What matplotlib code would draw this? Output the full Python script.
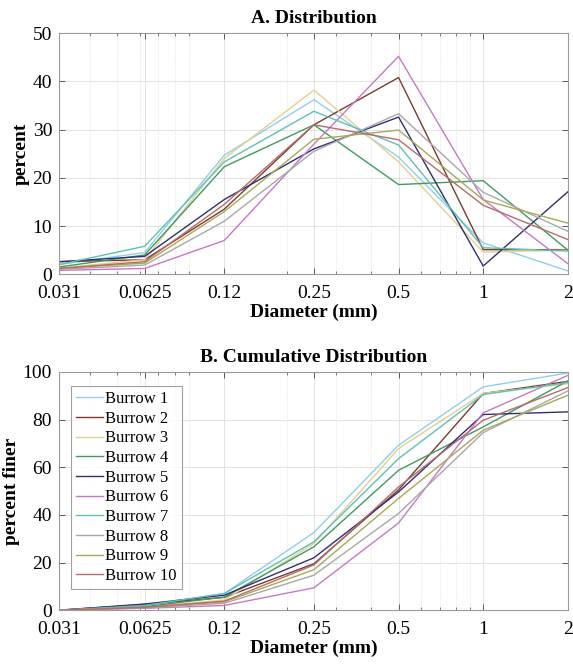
import matplotlib
matplotlib.use("Agg")
import matplotlib.pyplot as plt
import numpy as np
from matplotlib.ticker import FixedLocator, NullFormatter, LogLocator

plt.rcParams['font.family'] = ['Liberation Serif', 'DejaVu Serif']

diam = [0.031, 0.0625, 0.12, 0.25, 0.5, 1, 2]
xtick_labels = ['0.031', '0.0625', '0.12', '0.25', '0.5', '1', '2']
names = ['Burrow %d' % i for i in range(1, 11)]
colors = ['#8fcfe8', '#7a3b2e', '#e3d08f', '#3f9a63', '#2f2f72',
          '#c678c8', '#5fc0b5', '#a8a8a8', '#a8a855', '#b96a6a']

dist_b1 = [2.0, 4.5, 24.7, 36.2, 24.3, 6.5, 0.7]
dist_b2 = [2.6, 3.0, 13.5, 31.0, 40.8, 5.1, 5.1]
dist_b3 = [1.3, 3.0, 24.0, 38.2, 23.3, 4.6, 5.0]
dist_b4 = [1.5, 4.0, 22.3, 31.0, 18.6, 19.4, 5.0]
dist_b5 = [2.6, 3.7, 15.5, 26.0, 32.6, 1.7, 17.1]
dist_b6 = [0.8, 1.2, 7.0, 27.0, 45.2, 15.5, 2.2]
dist_b7 = [2.0, 5.8, 23.3, 33.8, 26.8, 5.5, 4.8]
dist_b8 = [1.0, 1.9, 11.0, 25.5, 33.3, 17.0, 8.9]
dist_b9 = [1.2, 2.3, 13.0, 28.0, 29.9, 15.4, 10.6]
dist_b10 = [1.2, 2.6, 14.5, 31.0, 27.9, 14.3, 7.2]
dist = [dist_b1, dist_b2, dist_b3, dist_b4, dist_b5,
        dist_b6, dist_b7, dist_b8, dist_b9, dist_b10]

cum_b1 = [0, 2.0, 7.0, 32.6, 69.2, 93.7, 99.5]
cum_b2 = [0, 2.4, 5.4, 19.5, 50.5, 90.9, 96.0]
cum_b3 = [0, 1.3, 4.3, 28.0, 67.8, 91.0, 95.0]
cum_b4 = [0, 1.5, 5.5, 26.6, 58.7, 76.9, 96.2]
cum_b5 = [0, 2.6, 6.3, 22.0, 49.6, 82.1, 83.2]
cum_b6 = [0, 0.8, 2.0, 9.4, 36.6, 82.8, 98.5]
cum_b7 = [0, 2.0, 7.0, 28.7, 63.6, 90.5, 95.5]
cum_b8 = [0, 1.0, 2.9, 14.7, 40.6, 74.5, 92.0]
cum_b9 = [0, 1.2, 3.5, 17.0, 46.9, 75.5, 90.2]
cum_b10 = [0, 1.2, 3.8, 19.0, 51.7, 79.7, 93.4]
cum = [cum_b1, cum_b2, cum_b3, cum_b4, cum_b5,
       cum_b6, cum_b7, cum_b8, cum_b9, cum_b10]

fig = plt.figure(figsize=(5.73, 6.64), dpi=100)
axA = fig.add_axes([0.103, 0.587, 0.888, 0.363])
axB = fig.add_axes([0.103, 0.081, 0.888, 0.359])


def style(ax, ymax, ystep):
    ax.set_xscale('log')
    ax.set_xlim(0.031, 2)
    ax.set_ylim(0, ymax)
    ax.xaxis.set_major_locator(FixedLocator(diam))
    ax.set_xticklabels(xtick_labels)
    ax.xaxis.set_minor_locator(LogLocator(base=10, subs=np.arange(2, 10)))
    ax.xaxis.set_minor_formatter(NullFormatter())
    ax.set_yticks(np.arange(0, ymax + 1, ystep))
    ax.tick_params(axis='both', which='both', direction='in',
                   top=True, right=True, labelsize=14, color='#444444')
    ax.tick_params(axis='x', which='major', pad=8)
    ax.tick_params(axis='y', which='major', pad=5)
    ax.tick_params(which='major', length=4, width=0.6)
    ax.tick_params(which='minor', length=2.5, width=0.5)
    ax.grid(True, which='major', color='#e2e2e2', linewidth=0.7)
    ax.grid(True, which='minor', axis='x', color='#dddddd',
            linewidth=0.6, linestyle=(0, (1, 1.5)))
    ax.set_axisbelow(True)
    for s in ax.spines.values():
        s.set_color('#9a9a9a')
        s.set_linewidth(0.8)
    ax.set_xlabel('Diameter (mm)', fontsize=14, fontweight='bold', labelpad=1)


for d, c, n in zip(dist, colors, names):
    axA.plot(diam, d, color=c, linewidth=1.0, label=n)
style(axA, 50, 10)
axA.set_ylabel('percent', fontsize=14, fontweight='bold', labelpad=2)
axA.set_title('A. Distribution', fontsize=14, fontweight='bold', pad=7)

for d, c, n in zip(cum, colors, names):
    axB.plot(diam, d, color=c, linewidth=1.0, label=n)
style(axB, 100, 20)
axB.set_ylabel('percent finer', fontsize=14, fontweight='bold', labelpad=2)
axB.set_title('B. Cumulative Distribution', fontsize=14, fontweight='bold', pad=7)
leg = axB.legend(loc='upper left', bbox_to_anchor=(0.024, 0.94),
                 fontsize=12, frameon=True, fancybox=False,
                 handlelength=1.6, handletextpad=0.15, labelspacing=0.22,
                 borderpad=0.3, borderaxespad=0.0)
leg.get_frame().set_edgecolor('#8a8a8a')
leg.get_frame().set_linewidth(0.8)

fig.savefig('out.png', dpi=100)
